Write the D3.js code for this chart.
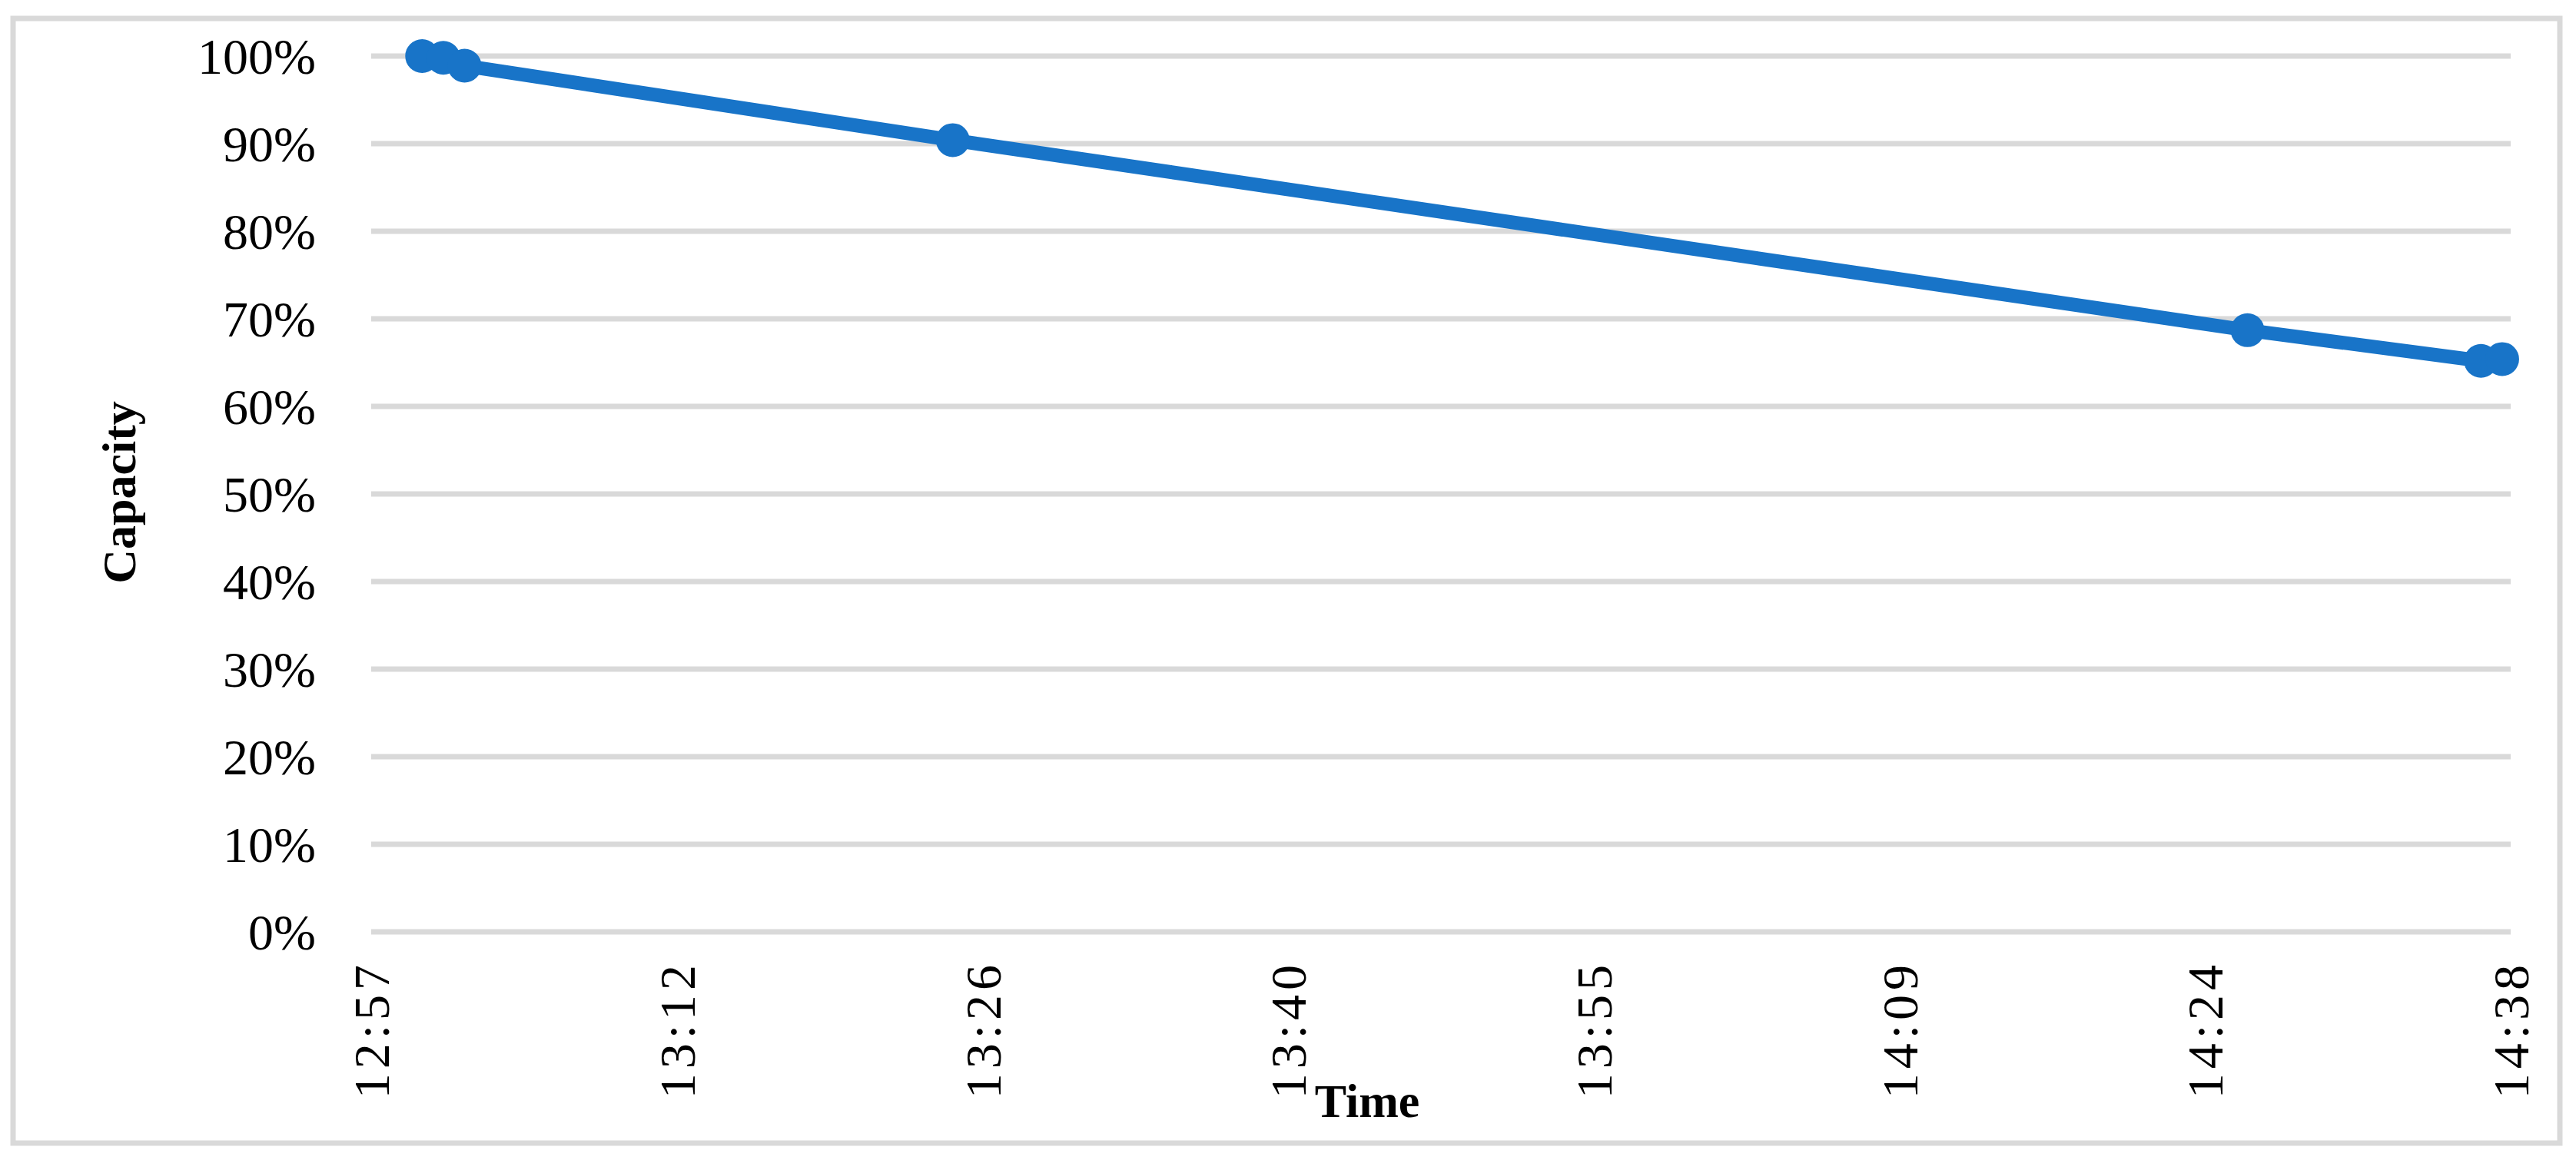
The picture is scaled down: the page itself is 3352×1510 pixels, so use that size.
<!DOCTYPE html>
<html>
<head>
<meta charset="utf-8">
<script src="https://cdn.jsdelivr.net/npm/d3@7"></script>
<style>
  body { margin: 0; background: #fff; }
  text { font-family: "Liberation Serif", "DejaVu Serif", serif; fill: #000; }
</style>
</head>
<body>
<svg id="chart" width="3352" height="1510"></svg>
<script>
// data: time of day (HH:MM) and remaining capacity
var times = ["13:00", "13:01", "13:02", "13:25", "14:26", "14:37", "14:38"];
var capacity = [1.000, 0.998, 0.989, 0.904, 0.687, 0.652, 0.654];
// x ticks sit at 0.54 .. 0.61 of a day, labelled like Excel
var tickDays = [0.54, 0.55, 0.56, 0.57, 0.58, 0.59, 0.60, 0.61];
var tickLabels = ["12:57", "13:12", "13:26", "13:40", "13:55", "14:09", "14:24", "14:38"];
var yTicks = [0, 0.1, 0.2, 0.3, 0.4, 0.5, 0.6, 0.7, 0.8, 0.9, 1.0];

function toDay(t) {
  var p = t.split(":");
  return (+p[0] * 60 + +p[1]) / 1440;
}

var svg = d3.select("#chart");
var plotLeft = 483, plotRight = 3267, plotTop = 73, plotBottom = 1213;

// outer border
svg.append("rect")
  .attr("x", 17).attr("y", 24)
  .attr("width", 3314).attr("height", 1464)
  .attr("fill", "none").attr("stroke", "#d9d9d9").attr("stroke-width", 7);

var x = d3.scaleLinear().domain([0.54, 0.61]).range([plotLeft, plotRight]);
var y = d3.scaleLinear().domain([0, 1]).range([plotBottom, plotTop]);

// gridlines
svg.append("g").selectAll("line")
  .data(yTicks)
  .join("line")
  .attr("x1", plotLeft).attr("x2", plotRight)
  .attr("y1", d => y(d)).attr("y2", d => y(d))
  .attr("stroke", "#d9d9d9").attr("stroke-width", 7);

// y labels
svg.append("g").selectAll("text")
  .data(yTicks)
  .join("text")
  .attr("x", plotLeft - 72)
  .attr("y", d => y(d))
  .attr("dy", "0.35em")
  .attr("text-anchor", "end")
  .style("font-size", "66px")
  .text(d => d3.format(".0%")(d));

// x labels, rotated
svg.append("g").selectAll("text")
  .data(tickDays)
  .join("text")
  .attr("transform", d => "translate(" + x(d) + "," + 1250 + ") rotate(-90)")
  .attr("dy", "0.35em")
  .attr("text-anchor", "end")
  .style("font-size", "66px")
  .style("letter-spacing", "6px")
  .text((d, i) => tickLabels[i]);

// axis titles
svg.append("text")
  .attr("transform", "translate(154,641) rotate(-90)")
  .attr("dy", "0.35em")
  .attr("text-anchor", "middle")
  .style("font-size", "62px").style("font-weight", "bold")
  .text("Capacity");

svg.append("text")
  .attr("x", 1779).attr("y", 1432)
  .attr("dy", "0.35em")
  .attr("text-anchor", "middle")
  .style("font-size", "62px").style("font-weight", "bold")
  .text("Time");

// line + markers
var pts = times.map((t, i) => [toDay(t), capacity[i]]);
var line = d3.line().x(d => x(d[0])).y(d => y(d[1]));

svg.append("path")
  .datum(pts)
  .attr("d", line)
  .attr("fill", "none")
  .attr("stroke", "#1874c8")
  .attr("stroke-width", 18)
  .attr("stroke-linejoin", "round");

svg.append("g").selectAll("circle")
  .data(pts)
  .join("circle")
  .attr("cx", d => x(d[0]))
  .attr("cy", d => y(d[1]))
  .attr("r", 22)
  .attr("fill", "#1874c8");
</script>
</body>
</html>
